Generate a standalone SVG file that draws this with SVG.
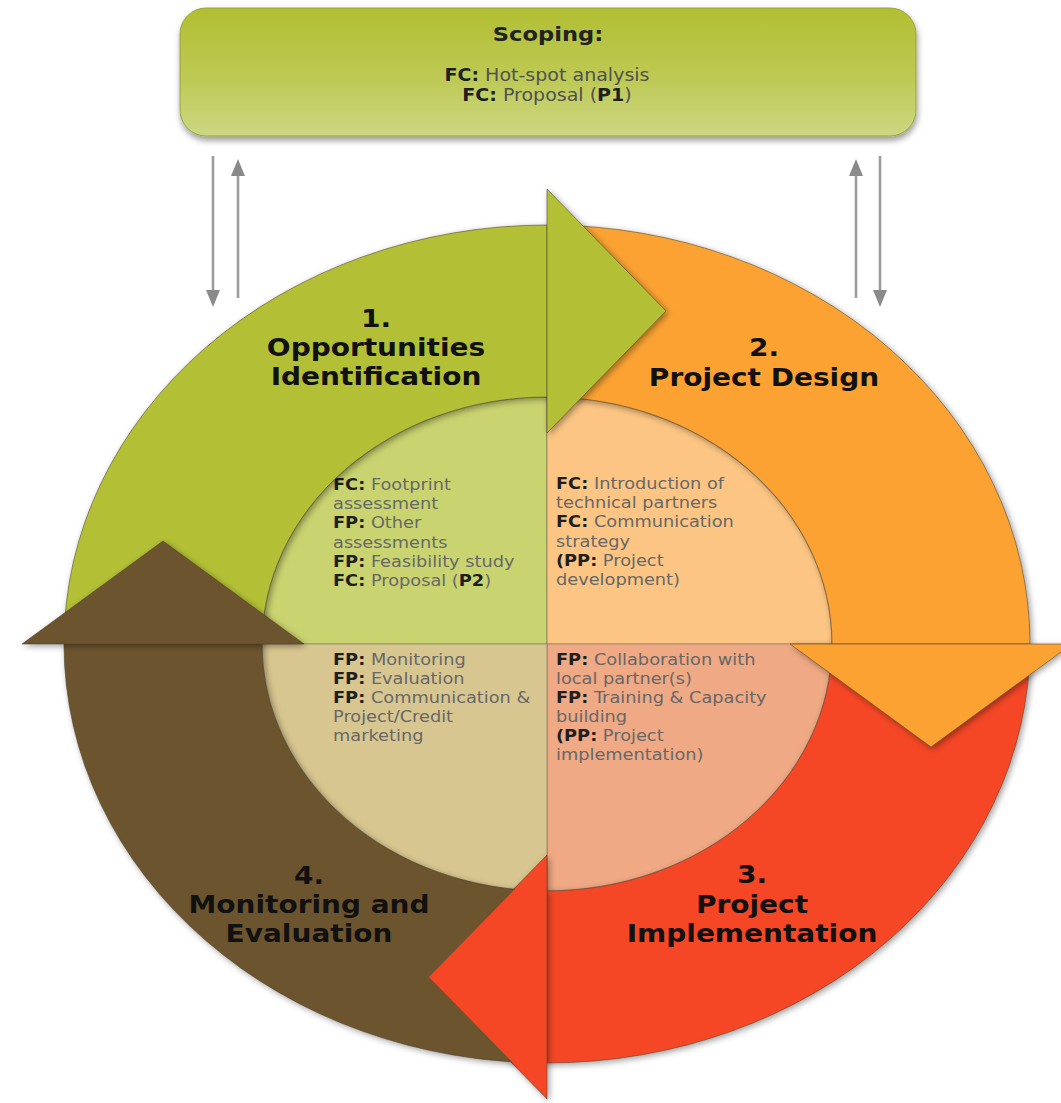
<svg xmlns="http://www.w3.org/2000/svg" width="1061" height="1103" viewBox="0 0 1061 1103">
  <defs>
    <style>
      .lbl { font-family: "DejaVu Sans", Verdana, sans-serif; font-weight: bold; font-size: 25px; fill: #111; text-anchor: middle; }
      .qt { font-family: "DejaVu Sans", Verdana, sans-serif; font-size: 16px; fill: #676767; }
      .b { font-weight: bold; fill: #1e1e1e; }
      .sc { font-family: "DejaVu Sans", Verdana, sans-serif; font-size: 17px; fill: #505050; text-anchor: middle; }
      .sct { font-family: "DejaVu Sans", Verdana, sans-serif; font-size: 20px; font-weight: bold; fill: #222; text-anchor: middle; }
      .band { stroke: #4a4028; stroke-opacity: 0.55; stroke-width: 1; }
      .quad { stroke: #7d7560; stroke-opacity: 0.6; stroke-width: 1.2; }
      .link { stroke: #9d9d9d; stroke-width: 2.6; fill: none; }
      .tip { fill: #8a8a8a; }
    </style>
    <linearGradient id="scopeFill" x1="0" y1="0" x2="0" y2="1">
      <stop offset="0" stop-color="#b2bf32"/>
      <stop offset="0.55" stop-color="#bdc954"/>
      <stop offset="1" stop-color="#ccd783"/>
    </linearGradient>
    <filter id="shadow" x="-10%" y="-10%" width="120%" height="120%">
      <feDropShadow dx="2" dy="2" stdDeviation="3" flood-color="#000" flood-opacity="0.38"/>
    </filter>
    <filter id="boxShadow" x="-5%" y="-10%" width="110%" height="130%">
      <feDropShadow dx="1" dy="4" stdDeviation="3" flood-color="#000" flood-opacity="0.4"/>
    </filter>
    <!-- keeps the brown band out from under the red arrowhead -->
    <clipPath id="notRedHead" clip-rule="evenodd">
      <path clip-rule="evenodd" d="M0 0 H1061 V1103 H0 Z M547.5 856 L429 977 L547.5 1098 Z"/>
    </clipPath>
  </defs>

  <rect width="1061" height="1103" fill="#fff"/>

  <!-- Scoping -->
  <g id="scoping">
    <rect x="180" y="8" width="736" height="128" rx="26" fill="url(#scopeFill)" stroke="#9aa43c" stroke-width="1" filter="url(#boxShadow)"/>
    <g transform="translate(548 0) scale(1.13 1)">
      <text class="sct" x="0" y="41">Scoping:</text>
    </g>
    <g transform="translate(547 0) scale(1.12 1)">
      <text class="sc" x="0" y="81"><tspan class="b">FC:</tspan> Hot-spot analysis</text>
      <text class="sc" x="0" y="101.5"><tspan class="b">FC:</tspan> Proposal (<tspan class="b">P1</tspan>)</text>
    </g>
  </g>

  <!-- Inner quadrants -->
  <g id="quad-opportunities">
    <path class="quad" fill="#c9d36f" d="M547 644 L262 644 A285 247 0 0 1 547 397 Z"/>
    <g class="qt" transform="translate(333 0) scale(1.11 1)">
      <text x="0" y="490"><tspan class="b">FC:</tspan> Footprint</text>
      <text x="0" y="509.2">assessment</text>
      <text x="0" y="528.4"><tspan class="b">FP:</tspan> Other</text>
      <text x="0" y="547.6">assessments</text>
      <text x="0" y="566.8"><tspan class="b">FP:</tspan> Feasibility study</text>
      <text x="0" y="586"><tspan class="b">FC:</tspan> Proposal (<tspan class="b">P2</tspan>)</text>
    </g>
  </g>

  <g id="quad-design">
    <path class="quad" fill="#fcc583" d="M547 644 L547 397 A285 247 0 0 1 832 644 Z"/>
    <g class="qt" transform="translate(556 0) scale(1.11 1)">
      <text x="0" y="489"><tspan class="b">FC:</tspan> Introduction of</text>
      <text x="0" y="508.2">technical partners</text>
      <text x="0" y="527.4"><tspan class="b">FC:</tspan> Communication</text>
      <text x="0" y="546.6">strategy</text>
      <text x="0" y="565.8"><tspan class="b">(PP:</tspan> Project</text>
      <text x="0" y="585">development)</text>
    </g>
  </g>

  <g id="quad-implementation">
    <path class="quad" fill="#efa984" d="M547 644 L832 644 A285 247 0 0 1 547 891 Z"/>
    <g class="qt" transform="translate(556 0) scale(1.11 1)">
      <text x="0" y="665"><tspan class="b">FP:</tspan> Collaboration with</text>
      <text x="0" y="684.1">local partner(s)</text>
      <text x="0" y="703.2"><tspan class="b">FP:</tspan> Training &amp; Capacity</text>
      <text x="0" y="722.3">building</text>
      <text x="0" y="741.4"><tspan class="b">(PP:</tspan> Project</text>
      <text x="0" y="760.5">implementation)</text>
    </g>
  </g>

  <g id="quad-monitoring">
    <path class="quad" fill="#d8c690" d="M547 644 L547 891 A285 247 0 0 1 262 644 Z"/>
    <g class="qt" transform="translate(333 0) scale(1.11 1)">
      <text x="0" y="665"><tspan class="b">FP:</tspan> Monitoring</text>
      <text x="0" y="684.1"><tspan class="b">FP:</tspan> Evaluation</text>
      <text x="0" y="703.2"><tspan class="b">FP:</tspan> Communication &amp;</text>
      <text x="0" y="722.3">Project/Credit</text>
      <text x="0" y="741.4">marketing</text>
    </g>
  </g>

  <!-- Cycle stages: curved band + arrowhead -->
  <g id="stage-3" filter="url(#shadow)">
    <path class="band" fill="#f54727" d="M1030 644 A483 419 0 0 1 547 1063 L547 891 A285 247 0 0 0 832 644 Z"/>
    <path class="band" fill="#f54727" d="M547 855 L428 977 L547 1099 Z"/>
  </g>

  <g id="stage-2" filter="url(#shadow)">
    <path class="band" fill="#fba233" d="M547 225 A483 419 0 0 1 1030 644 L832 644 A285 247 0 0 0 547 397 Z"/>
    <path class="band" fill="#fba233" d="M790 644 L1072 644 L931 747 Z"/>
  </g>

  <g id="stage-1" filter="url(#shadow)">
    <path class="band" fill="#b3c034" d="M64 644 A483 419 0 0 1 547 225 L547 397 A285 247 0 0 0 262 644 Z"/>
    <path class="band" fill="#b3c034" d="M547 189 L666 311 L547 433 Z"/>
  </g>

  <g id="stage-4">
    <path class="band" fill="#6c552f" filter="url(#shadow)" clip-path="url(#notRedHead)" d="M547 1063 A483 419 0 0 1 64 644 L262 644 A285 247 0 0 0 547 891 Z"/>
    <path class="band" fill="#6c552f" filter="url(#shadow)" d="M22 644 L163 541 L304 644 Z"/>
  </g>

  <!-- Stage titles -->
  <g id="label-1" transform="translate(376 0) scale(1.12 1)">
    <text class="lbl" x="0" y="327">1.</text>
    <text class="lbl" x="0" y="356">Opportunities</text>
    <text class="lbl" x="0" y="385">Identification</text>
  </g>
  <g id="label-2" transform="translate(764 0) scale(1.12 1)">
    <text class="lbl" x="0" y="356">2.</text>
    <text class="lbl" x="0" y="386">Project Design</text>
  </g>
  <g id="label-3" transform="translate(752 0) scale(1.12 1)">
    <text class="lbl" x="0" y="883">3.</text>
    <text class="lbl" x="0" y="913">Project</text>
    <text class="lbl" x="0" y="942">Implementation</text>
  </g>
  <g id="label-4" transform="translate(309 0) scale(1.12 1)">
    <text class="lbl" x="0" y="884">4.</text>
    <text class="lbl" x="0" y="913">Monitoring and</text>
    <text class="lbl" x="0" y="942">Evaluation</text>
  </g>

  <!-- Links between scoping and the cycle -->
  <g id="connectors">
    <line class="link" x1="213" y1="156" x2="213" y2="292"/>
    <path class="tip" d="M206 290 L220 290 L213 307 Z"/>
    <line class="link" x1="238" y1="298" x2="238" y2="174"/>
    <path class="tip" d="M231 176 L245 176 L238 159 Z"/>
    <line class="link" x1="856" y1="298" x2="856" y2="174"/>
    <path class="tip" d="M849 176 L863 176 L856 159 Z"/>
    <line class="link" x1="880" y1="156" x2="880" y2="292"/>
    <path class="tip" d="M873 290 L887 290 L880 307 Z"/>
  </g>
</svg>
